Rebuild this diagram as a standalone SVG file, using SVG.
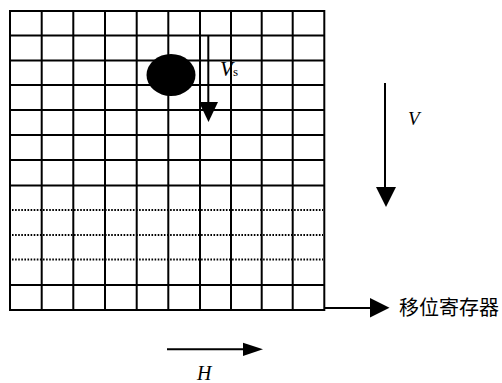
<svg xmlns="http://www.w3.org/2000/svg" width="502" height="383" viewBox="0 0 502 383">
<style>
.g{stroke:#000;stroke-width:2;fill:none}
.d{stroke:#000;stroke-width:1.8;stroke-dasharray:1.6 1.5;fill:none}
.a{stroke:#000;stroke-width:2;fill:none}
.t{font-family:"Liberation Serif","Times New Roman",serif;font-style:italic;fill:#000}
.c{font-family:"Noto Sans CJK SC",sans-serif;fill:#000}
</style>
<rect width="502" height="383" fill="#fff"/>
<g id="grid">
<rect class="g" x="10" y="11" width="314.3" height="299"/>
<path class="g" d="M41.7 11V310M73.3 11V310M105 11V310M136.7 11V310M168.3 11V310M200 11V310M231 11V310M261.7 11V310M292.7 11V310"/>
<path class="g" d="M10 35.5H324.3M10 60.5H324.3M10 85H324.3M10 110H324.3M10 135H324.3M10 160H324.3M10 185.5H324.3M10 285H324.3"/>
<path class="d" d="M12 210H323M12 235H323M12 259.5H323"/>
</g>
<g id="particle">
<ellipse cx="171" cy="75" rx="24.5" ry="21" fill="#000"/>
</g>
<g id="connectors">
<path class="a" d="M208.3 35V103"/>
<polygon points="199,102 218,102 208.5,122" fill="#000"/>
<path class="a" d="M385 83V188"/>
<polygon points="376,187 396,187 386,207" fill="#000"/>
<path class="a" d="M324 308H371"/>
<polygon points="370,298 389.5,307.7 370,317.5" fill="#000"/>
<path class="a" d="M167 349.3H244"/>
<polygon points="243,342.7 263,349.3 243,356" fill="#000"/>
</g>
<g id="labels">
<text class="t" x="220" y="76" font-size="21">V</text>
<text x="233" y="76" font-size="13" font-family="Liberation Serif,serif">s</text>
<text class="t" x="408" y="125" font-size="19">V</text>
<text class="t" x="197" y="380" font-size="20">H</text>
<text class="c" x="399" y="315" font-size="20">移位寄存器</text>
</g>
</svg>
